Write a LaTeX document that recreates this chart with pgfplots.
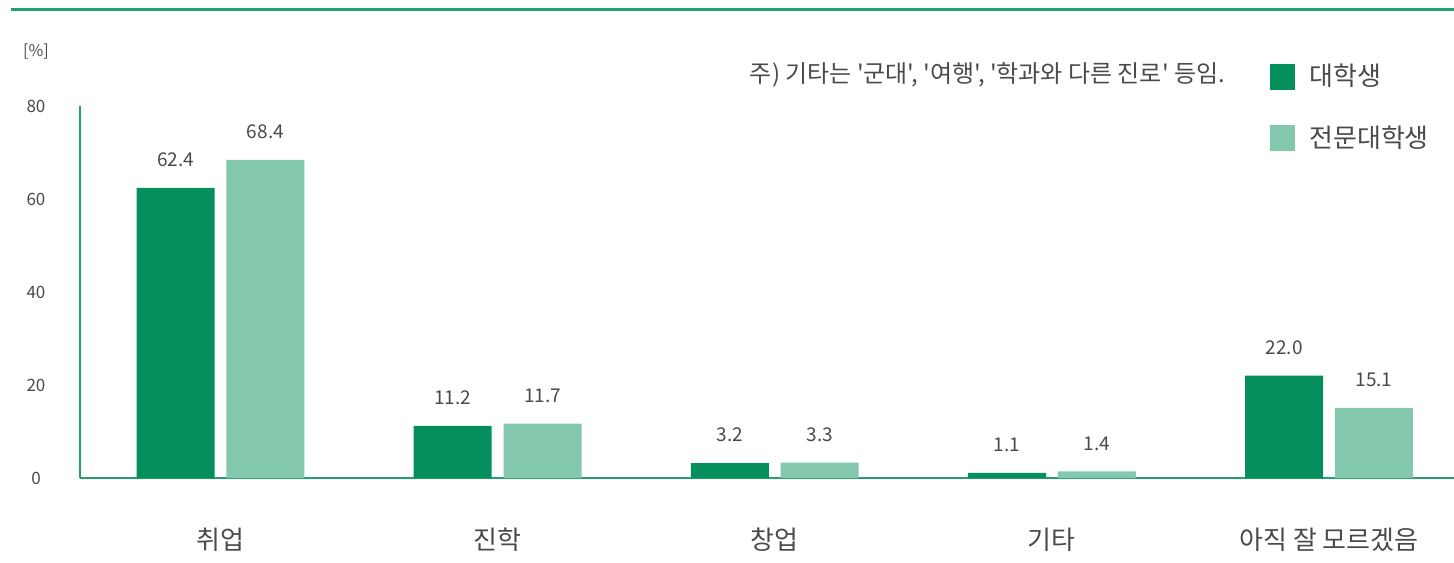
\documentclass[border=0pt]{standalone}
\usepackage{pgfplots}
\pgfplotsset{compat=1.18}
\usepackage{fontspec}
\setmainfont{Noto Sans CJK KR}
\newfontfamily\plainfont{Noto Sans CJK KR}
\definecolor{darkg}{HTML}{058F5C}
\definecolor{lightg}{HTML}{83C8AD}
\definecolor{lineg}{HTML}{22A06F}
\definecolor{txt}{HTML}{4A4A4A}
\begin{document}
\begin{tikzpicture}
\path[use as bounding box] (0,0) rectangle (727pt,281pt);
\draw[lineg, line width=1.5pt] (5.5pt,276pt) -- (727pt,276pt);
\node[txt, font=\fontsize{8}{9}\selectfont] at (18pt,255pt) {[\%]};
\node[txt, anchor=east, font=\plainfont\fontsize{12}{14}\selectfont] at (616pt,243.5pt) {주) 기타는 '군대', '여행', '학과와 다른 진로' 등임.};
\begin{axis}[
  at={(40pt,42pt)}, anchor=south west,
  scale only axis, width=687pt, height=186pt,
  ybar,
  xmin=-0.507, xmax=4.451,
  ymin=0, ymax=80,
  ytick={0,20,40,60,80},
  xtick={0,1,2,3,4},
  xticklabels={취업,진학,창업,기타,아직 잘 모르겠음},
  axis x line*=bottom, axis y line*=left,
  axis line style={lineg, line width=1pt},
  x axis line style={-}, y axis line style={-},
  major tick length=0pt,
  /pgf/number format/assume math mode=true,
  yticklabel style={anchor=center, xshift=-22pt, text=txt, font=\fontsize{8.5}{10}\selectfont},
  xticklabel style={anchor=center, yshift=-31pt, text=txt, font=\fontsize{13}{15}\selectfont},
  bar width=0.2815,
  nodes near coords={\pgfmathprintnumber[fixed,fixed zerofill,precision=1,assume math mode=true]{\pgfplotspointmeta}},
  every node near coord/.append style={text=txt, font=\fontsize{9.5}{11}\selectfont, yshift=7pt},
  legend image code/.code={\fill[#1, draw=none] (0pt,-6.5pt) rectangle (12.5pt,6.5pt);},
  legend style={draw=none, fill=none, at={(rel axis cs:0.866,1.124)}, anchor=north west, inner sep=0pt, row sep=14.5pt, column sep=5pt, font=\fontsize{13}{15}\selectfont, text=txt, cells={anchor=west}},
]
\addplot[fill=darkg, draw=none, bar shift=-0.162] coordinates {(0,62.4) (1,11.2) (2,3.2) (3,1.1) (4,22.0)};
\addplot[fill=lightg, draw=none, bar shift=0.162] coordinates {(0,68.4) (1,11.7) (2,3.3) (3,1.4) (4,15.1)};
\legend{대학생,전문대학생}
\end{axis}
\end{tikzpicture}
\end{document}
